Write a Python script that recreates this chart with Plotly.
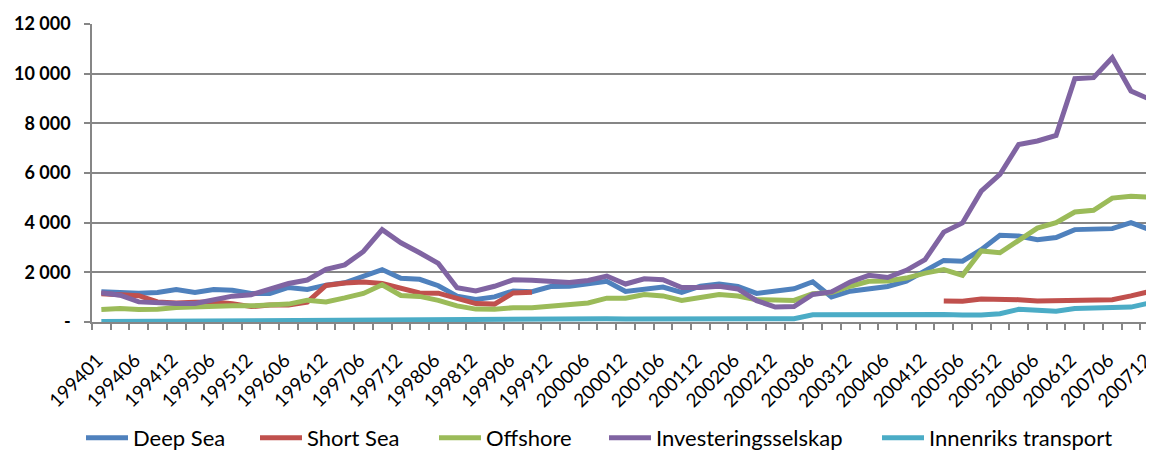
import plotly.graph_objects as go

periods = []
for y in range(1994, 2008):
    months = ["01", "03", "06", "09", "12"] if y == 1994 else ["03", "06", "09", "12"]
    for m in months:
        periods.append(f"{y}{m}")

deep_sea = [1215, 1190, 1160, 1190, 1310, 1190, 1310, 1280, 1150, 1150, 1390, 1310, 1485, 1580, 1820,
            2110, 1760, 1720, 1460, 1040, 910, 1010, 1250, 1220, 1430, 1440, 1540, 1640, 1230, 1310,
            1410, 1190, 1440, 1530, 1430, 1150, 1230, 1340, 1620, 1010, 1240, 1340, 1430, 1640, 2080,
            2480, 2450, 2910, 3490, 3460, 3310, 3400, 3720, 3720, 3760, 4000, 3720]
short_sea = [1140, 1100, 1060, 810, 770, 800, 810, 740, 620, 680, 680, 800, 1470, 1570, 1610,
             1550, 1380, 1170, 1160, 970, 740, 720, 1170, 1200, None, None, None, None, None, None,
             None, None, None, None, None, None, None, None, None, None, None, None, None, None, None,
             845, 832, 930, 930, 900, 850, 870, 890, 890, 900, 1050, 1230]
offshore = [500, 540, 500, 510, 580, 610, 650, 650, 650, 680, 720, 880, 810, 970, 1150,
            1500, 1070, 1030, 870, 650, 520, 510, 577, 577, 640, 700, 765, 960, 960, 1110,
            1050, 870, 1000, 1110, 1050, 900, 890, 870, 1140, 1190, 1440, 1640, 1650, 1770, 1970,
            2110, 1880, 2860, 2790, 3310, 3780, 4000, 4430, 4500, 4990, 5060, 5030]
invest = [1180, 1080, 810, 770, 750, 750, 910, 1040, 1100, 1310, 1550, 1690, 2120, 2300, 2840,
          3720, 3190, 2790, 2360, 1380, 1250, 1440, 1700, 1680, 1620, 1590, 1670, 1850, 1530, 1740,
          1700, 1390, 1390, 1440, 1330, 860, 600, 620, 1110, 1210, 1610, 1880, 1790, 2080, 2510,
          3620, 3990, 5270, 5940, 7150, 7290, 7510, 9800, 9840, 10640, 9300, 8970]
innenriks = [20, 25, 30, 30, 35, 40, 40, 45, 50, 55, 60, 70, 80, 90, 100,
             110, 120, 125, 125, 120, 115, 115, 115, 120, 120, 125, 130, 130, 125, 125,
             130, 130, 130, 130, 130, 130, 130, 135, 290, 290, 290, 295, 320, 335, 320,
             305, 280, 280, 335, 510, 470, 430, 540, 560, 565, 600, 770]

series_names = ["Deep Sea", "Short Sea", "Offshore", "Investeringsselskap", "Innenriks transport"]
series_values = [deep_sea, short_sea, offshore, invest, innenriks]
colors = ["#4F81BD", "#C0504D", "#9BBB59", "#8064A2", "#4BACC6"]

y_ticks = [0, 2000, 4000, 6000, 8000, 10000, 12000]
y_ticktext = ["-", "2 000", "4 000", "6 000", "8 000", "10 000", "12 000"]

xs = list(range(len(periods)))

# page body has an 8px margin; figure is sized/offset to compensate
W, H = 1146, 442
ML, MT, MB = 84, 16, 128
plot_w = W - ML
plot_h = H - MT - MB

# legend text starts (window px) for each entry
legend_text_x = [141, 315, 494, 664, 937]
ITEMW = 42

fig = go.Figure()
legend_layouts = {}
for k, (name, vals, col) in enumerate(zip(series_names, series_values, colors)):
    lname = "legend" if k == 0 else f"legend{k + 1}"
    fig.add_trace(go.Scatter(x=xs, y=vals, mode="lines", name=name, legend=lname,
                             line=dict(color=col, width=5), connectgaps=False))
    lx_fig = legend_text_x[k] - 8 - ITEMW - 18
    legend_layouts[lname] = dict(
        orientation="h", x=(lx_fig - ML) / plot_w, xanchor="left",
        y=(MT + plot_h - 430) / plot_h, yanchor="middle",
        font=dict(size=22, family="Lato, Calibri, sans-serif", color="black"),
        itemwidth=ITEMW, bgcolor="rgba(0,0,0,0)", borderwidth=0,
    )

fig.update_layout(
    width=W, height=H,
    margin=dict(l=ML, r=0, t=MT, b=MB, pad=0, autoexpand=False),
    plot_bgcolor="white", paper_bgcolor="white",
    font=dict(family="Lato, Calibri, sans-serif", color="black"),
    showlegend=True,
    **legend_layouts,
)
fig.update_xaxes(
    range=[-0.5, 56.23],
    tickmode="array",
    tickvals=xs[::2],
    ticktext=periods[::2],
    tickangle=-45,
    tickfont=dict(size=19),
    ticks="",
    ticklabelstandoff=18,
    ticklabelshift=-4,
    ticklabeloverflow="allow",
    showgrid=False,
    zeroline=False,
    showline=True, linecolor="#868686", linewidth=1.5,
    minor=dict(tickmode="linear", tick0=-0.5, dtick=1, ticks="outside", ticklen=6,
               tickcolor="#868686", tickwidth=1.5, showgrid=False),
)
fig.update_yaxes(
    range=[0, 12000],
    tickmode="array",
    tickvals=y_ticks,
    ticktext=y_ticktext,
    tickfont=dict(size=18, family="Lato, Calibri, sans-serif", weight="bold"),
    ticks="outside", ticklen=6, tickcolor="#868686", tickwidth=1.5,
    ticklabelstandoff=10,
    showgrid=True, gridcolor="#868686", gridwidth=1.6,
    zeroline=False,
    showline=True, linecolor="#868686", linewidth=1.5,
)

fig.write_html("out.html")
